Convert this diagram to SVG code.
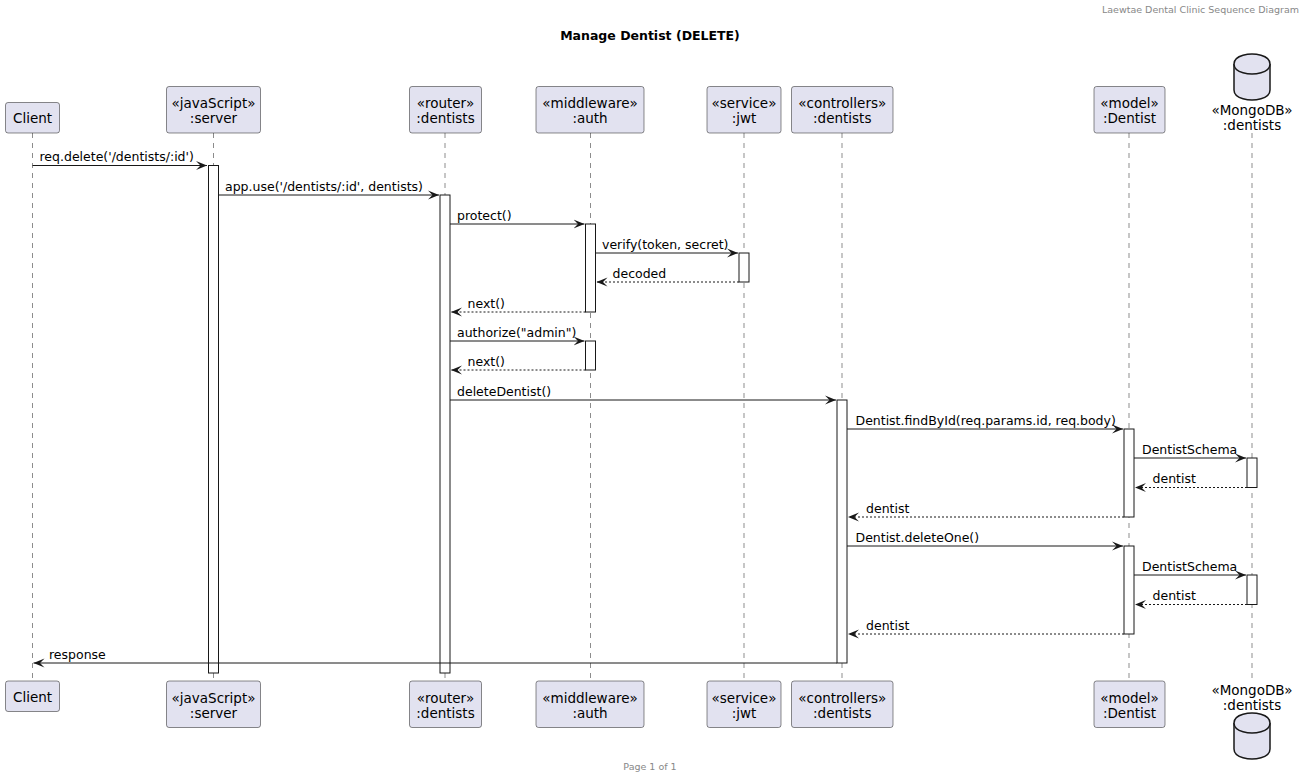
<svg xmlns="http://www.w3.org/2000/svg" width="1306" height="779" viewBox="0 0 1306 779">
<style>
text{font-family:"DejaVu Sans","Liberation Sans",sans-serif;fill:#000}
.hdr{font-size:9.5px;fill:#888888}
.title{font-size:12.5px;font-weight:bold}
.pt{font-size:13.5px;text-anchor:middle}
.msg{font-size:12.5px}
.box{fill:#E2E2F0;stroke:#181818;stroke-width:0.5}
.life{stroke:#181818;stroke-width:0.5;stroke-dasharray:5,5;fill:none}
.act{fill:#FFFFFF;stroke:#181818;stroke-width:1}
.line{stroke:#181818;stroke-width:1;fill:none}
.ret{stroke:#181818;stroke-width:1;fill:none;stroke-dasharray:2,2}
.db{fill:#E2E2F0;stroke:#181818;stroke-width:1.5}
</style>
<defs>
<marker id="arr" markerUnits="userSpaceOnUse" markerWidth="12" markerHeight="10" viewBox="0 0 12 10" refX="11" refY="5" orient="auto">
<path d="M0,0.5 L11,5 L0,9.5 L4.5,5 Z" fill="#181818"/>
</marker>
</defs>
<rect width="1306" height="779" fill="#FFFFFF"/>
<text class="hdr" x="1299" y="13" text-anchor="end">Laewtae Dental Clinic Sequence Diagram</text>
<text class="title" x="650" y="40" text-anchor="middle">Manage Dentist (DELETE)</text>
<text class="hdr" x="650" y="770" text-anchor="middle">Page 1 of 1</text>

<g id="lifelines">
<line class="life" x1="32.5" y1="133" x2="32.5" y2="681"/>
<line class="life" x1="213.5" y1="133" x2="213.5" y2="681"/>
<line class="life" x1="445" y1="133" x2="445" y2="681"/>
<line class="life" x1="590.5" y1="133" x2="590.5" y2="681"/>
<line class="life" x1="744" y1="133" x2="744" y2="681"/>
<line class="life" x1="842" y1="133" x2="842" y2="681"/>
<line class="life" x1="1129" y1="133" x2="1129" y2="681"/>
<line class="life" x1="1252" y1="133" x2="1252" y2="681"/>
</g>

<g id="activations">
<rect class="act" x="208.5" y="165.5" width="10" height="507.5"/>
<rect class="act" x="440" y="195" width="10" height="478"/>
<rect class="act" x="585.5" y="224" width="10" height="88"/>
<rect class="act" x="739" y="253" width="10" height="29"/>
<rect class="act" x="585.5" y="341" width="10" height="29"/>
<rect class="act" x="837" y="400" width="10" height="263"/>
<rect class="act" x="1124" y="429" width="10" height="88"/>
<rect class="act" x="1247" y="458" width="10" height="29.5"/>
<rect class="act" x="1124" y="546" width="10" height="88"/>
<rect class="act" x="1247" y="575" width="10" height="29.5"/>
</g>

<g id="connectors">
<line class="line" x1="32.5" y1="165.5" x2="207" y2="165.5" marker-end="url(#arr)"/>
<text class="msg" x="39.5" y="161">req.delete('/dentists/:id')</text>
<line class="line" x1="218.5" y1="195" x2="439" y2="195" marker-end="url(#arr)"/>
<text class="msg" x="225" y="190.5">app.use('/dentists/:id', dentists)</text>
<line class="line" x1="450" y1="224" x2="584.5" y2="224" marker-end="url(#arr)"/>
<text class="msg" x="457" y="219.5">protect()</text>
<line class="line" x1="595.5" y1="253" x2="738" y2="253" marker-end="url(#arr)"/>
<text class="msg" x="602" y="248.5">verify(token, secret)</text>
<line class="ret" x1="739" y1="282" x2="596.5" y2="282" marker-end="url(#arr)"/>
<text class="msg" x="612.5" y="277.5">decoded</text>
<line class="ret" x1="585.5" y1="312" x2="451" y2="312" marker-end="url(#arr)"/>
<text class="msg" x="467.5" y="307.5">next()</text>
<line class="line" x1="450" y1="341" x2="584.5" y2="341" marker-end="url(#arr)"/>
<text class="msg" x="457" y="336.5">authorize("admin")</text>
<line class="ret" x1="585.5" y1="370" x2="451" y2="370" marker-end="url(#arr)"/>
<text class="msg" x="467.5" y="365.5">next()</text>
<line class="line" x1="450" y1="400" x2="836" y2="400" marker-end="url(#arr)"/>
<text class="msg" x="457" y="395.5">deleteDentist()</text>
<line class="line" x1="847" y1="429" x2="1123" y2="429" marker-end="url(#arr)"/>
<text class="msg" x="855.5" y="424.5">Dentist.findById(req.params.id, req.body)</text>
<line class="line" x1="1134" y1="458" x2="1246" y2="458" marker-end="url(#arr)"/>
<text class="msg" x="1142" y="453.5">DentistSchema</text>
<line class="ret" x1="1247" y1="487.5" x2="1135" y2="487.5" marker-end="url(#arr)"/>
<text class="msg" x="1152.5" y="483">dentist</text>
<line class="ret" x1="1124" y1="517" x2="848" y2="517" marker-end="url(#arr)"/>
<text class="msg" x="866" y="512.5">dentist</text>
<line class="line" x1="847" y1="546" x2="1123" y2="546" marker-end="url(#arr)"/>
<text class="msg" x="855.5" y="541.5">Dentist.deleteOne()</text>
<line class="line" x1="1134" y1="575" x2="1246" y2="575" marker-end="url(#arr)"/>
<text class="msg" x="1142" y="570.5">DentistSchema</text>
<line class="ret" x1="1247" y1="604.5" x2="1135" y2="604.5" marker-end="url(#arr)"/>
<text class="msg" x="1152.5" y="600">dentist</text>
<line class="ret" x1="1124" y1="634" x2="848" y2="634" marker-end="url(#arr)"/>
<text class="msg" x="866" y="629.5">dentist</text>
<line class="line" x1="837" y1="663" x2="33.5" y2="663" marker-end="url(#arr)"/>
<text class="msg" x="49" y="658.5">response</text>
</g>

<g id="client">
<rect class="box" x="5.5" y="102.5" width="54" height="30.5" rx="2.5"/>
<text class="pt" x="32.5" y="123">Client</text>
<rect class="box" x="5.5" y="681" width="54" height="30.5" rx="2.5"/>
<text class="pt" x="32.5" y="701.5">Client</text>
</g>
<g id="server">
<rect class="box" x="166.5" y="86.5" width="94" height="46.5" rx="2.5"/>
<text class="pt" x="213.5" y="108">«javaScript»</text>
<text class="pt" x="213.5" y="123">:server</text>
<rect class="box" x="166.5" y="681" width="94" height="46.5" rx="2.5"/>
<text class="pt" x="213.5" y="702.5">«javaScript»</text>
<text class="pt" x="213.5" y="717.5">:server</text>
</g>
<g id="router">
<rect class="box" x="409.5" y="86.5" width="72" height="46.5" rx="2.5"/>
<text class="pt" x="445.5" y="108">«router»</text>
<text class="pt" x="445.5" y="123">:dentists</text>
<rect class="box" x="409.5" y="681" width="72" height="46.5" rx="2.5"/>
<text class="pt" x="445.5" y="702.5">«router»</text>
<text class="pt" x="445.5" y="717.5">:dentists</text>
</g>
<g id="auth">
<rect class="box" x="536" y="86.5" width="108" height="46.5" rx="2.5"/>
<text class="pt" x="590" y="108">«middleware»</text>
<text class="pt" x="590" y="123">:auth</text>
<rect class="box" x="536" y="681" width="108" height="46.5" rx="2.5"/>
<text class="pt" x="590" y="702.5">«middleware»</text>
<text class="pt" x="590" y="717.5">:auth</text>
</g>
<g id="jwt">
<rect class="box" x="707" y="86.5" width="74" height="46.5" rx="2.5"/>
<text class="pt" x="744" y="108">«service»</text>
<text class="pt" x="744" y="123">:jwt</text>
<rect class="box" x="707" y="681" width="74" height="46.5" rx="2.5"/>
<text class="pt" x="744" y="702.5">«service»</text>
<text class="pt" x="744" y="717.5">:jwt</text>
</g>
<g id="controllers">
<rect class="box" x="791.5" y="86.5" width="101.5" height="46.5" rx="2.5"/>
<text class="pt" x="842.25" y="108">«controllers»</text>
<text class="pt" x="842.25" y="123">:dentists</text>
<rect class="box" x="791.5" y="681" width="101.5" height="46.5" rx="2.5"/>
<text class="pt" x="842.25" y="702.5">«controllers»</text>
<text class="pt" x="842.25" y="717.5">:dentists</text>
</g>
<g id="model">
<rect class="box" x="1094" y="86.5" width="71" height="46.5" rx="2.5"/>
<text class="pt" x="1129.5" y="108">«model»</text>
<text class="pt" x="1129.5" y="123">:Dentist</text>
<rect class="box" x="1094" y="681" width="71" height="46.5" rx="2.5"/>
<text class="pt" x="1129.5" y="702.5">«model»</text>
<text class="pt" x="1129.5" y="717.5">:Dentist</text>
</g>
<g id="mongodb">
<path class="db" d="M1234,64 C1234,54 1252,54 1252,54 C1252,54 1270,54 1270,64 L1270,90 C1270,100 1252,100 1252,100 C1252,100 1234,100 1234,90 Z"/>
<path class="db" fill="none" d="M1234,64 C1234,74 1252,74 1252,74 C1252,74 1270,74 1270,64"/>
<text class="pt" x="1252" y="115">«MongoDB»</text>
<text class="pt" x="1252" y="130">:dentists</text>
<text class="pt" x="1252" y="695">«MongoDB»</text>
<text class="pt" x="1252" y="710">:dentists</text>
<path class="db" d="M1234,723 C1234,713 1252,713 1252,713 C1252,713 1270,713 1270,723 L1270,749 C1270,759 1252,759 1252,759 C1252,759 1234,759 1234,749 Z"/>
<path class="db" fill="none" d="M1234,723 C1234,733 1252,733 1252,733 C1252,733 1270,733 1270,723"/>
</g>
</svg>
